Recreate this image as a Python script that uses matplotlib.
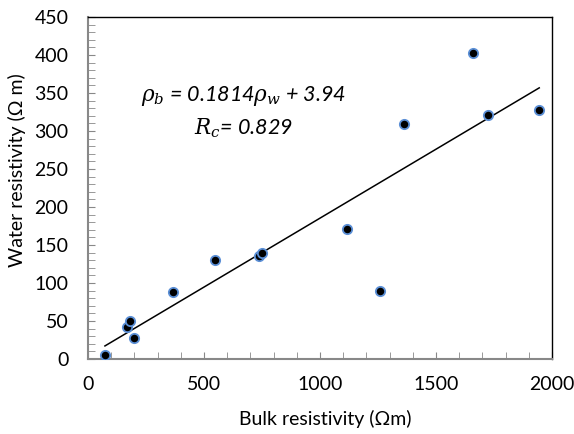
import matplotlib
matplotlib.use("Agg")
import matplotlib.pyplot as plt
from matplotlib.ticker import MultipleLocator

# bulk resistivity (Ohm m) vs water resistivity (Ohm m)
bulk = [73, 167, 181, 198, 365, 549, 736, 750, 1115, 1259, 1364, 1661, 1723, 1945]
water = [5, 42.5, 50, 28, 88, 130, 135, 140, 171.5, 90, 309.6, 403, 321.5, 328]

# fitted line quoted on the chart
slope = 0.1814
intercept = 3.94
r_c = 0.829

plt.rcParams['font.family'] = ['Lato', 'DejaVu Sans']
plt.rcParams['mathtext.fontset'] = 'custom'
plt.rcParams['mathtext.it'] = 'DejaVu Serif:italic'
plt.rcParams['mathtext.rm'] = 'Lato'

fig = plt.figure(figsize=(5.74, 4.34), dpi=100)
ax = fig.add_axes([88 / 574, 1 - 359 / 434, 464 / 574, 342 / 434])

ax.scatter(bulk, water, s=45, c='black', edgecolors='#5b8fd6', linewidths=1.3, zorder=3)

x_fit = [min(bulk), max(bulk)]
y_fit = [slope * v + intercept for v in x_fit]
ax.plot(x_fit, y_fit, color='black', lw=1.1, zorder=2)

ax.set_xlim(0, 2000)
ax.set_ylim(0, 450)
ax.xaxis.set_major_locator(MultipleLocator(500))
ax.xaxis.set_minor_locator(MultipleLocator(100))
ax.yaxis.set_major_locator(MultipleLocator(50))
ax.yaxis.set_minor_locator(MultipleLocator(10))
ax.tick_params(which='both', direction='in', color='#888888', labelsize=14)
ax.tick_params(which='major', length=5)
ax.tick_params(which='minor', length=5)
ax.tick_params(axis='x', pad=12)
ax.tick_params(axis='y', pad=14)
for side in ['left', 'bottom']:
    ax.spines[side].set_color('#888888')
    ax.spines[side].set_linewidth(1.5)
for side in ['top', 'right']:
    ax.spines[side].set_color('black')
    ax.spines[side].set_linewidth(1.0)

ax.set_xlabel('Bulk resistivity (\u03a9m)', fontsize=14)
ax.set_ylabel('Water resistivity (\u03a9 m)', fontsize=14)
ax.xaxis.set_label_coords(325 / 574, 1 - 410 / 434, transform=fig.transFigure)
ax.yaxis.set_label_coords(26 / 574, 1 - 170 / 434, transform=fig.transFigure)

ax.text(0.334, 0.77, r'$\rho_b$ = 0.1814$\rho_w$ + 3.94', transform=ax.transAxes,
        ha='center', va='center', fontsize=15.5, style='italic')
ax.text(0.334, 0.675, r'$R_c$= ' + f'{r_c}', transform=ax.transAxes,
        ha='center', va='center', fontsize=15.5, style='italic')

fig.savefig('out.png', dpi=100)
